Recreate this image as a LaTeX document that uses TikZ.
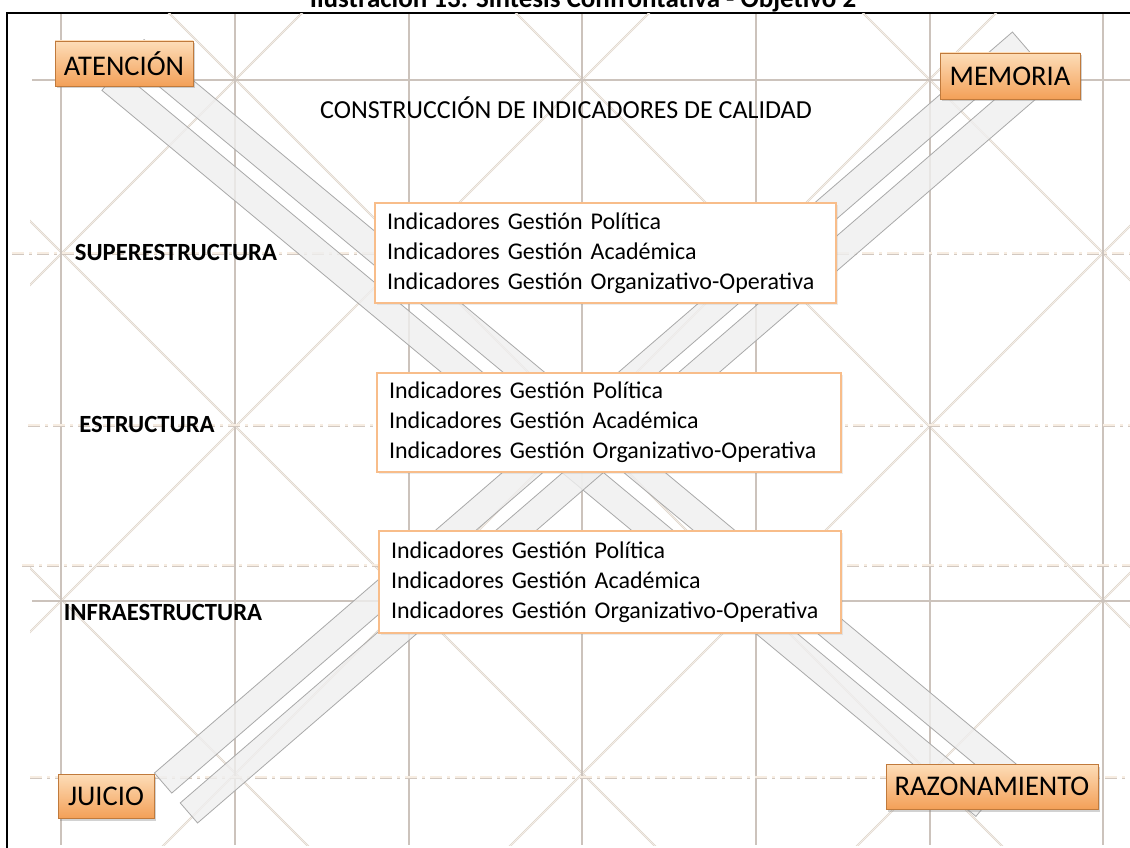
\documentclass[tikz,border=0pt]{standalone}
\usepackage{fontspec}
\setmainfont{Carlito}
\usetikzlibrary{shadows,calc}
\definecolor{gridc}{HTML}{CCC3BC}
\definecolor{diagc}{HTML}{DDD4CB}
\definecolor{diagin}{HTML}{F7F1EB}
\definecolor{dashc}{HTML}{D2C8C0}
\definecolor{dashin}{HTML}{F7EDE2}
\definecolor{bandfill}{HTML}{EFEFEF}
\definecolor{bandline}{HTML}{A9A9A9}
\definecolor{boxline}{HTML}{F8BD8A}
\definecolor{lbltop}{HTML}{FDDDB8}
\definecolor{lblbot}{HTML}{F3A058}
\definecolor{lblline}{HTML}{C07A3C}
\tikzset{
  gridline/.style={gridc, line width=2pt},
  diagline/.style={diagc, line width=2pt},
  diagfine/.style={diagin, line width=0.7pt},
  dashout/.style={dashc, line width=3pt, dash pattern=on 12pt off 5pt on 3pt off 5pt},
  dashinner/.style={dashin, line width=1.4pt, dash pattern=on 12pt off 5pt on 3pt off 5pt},
  bandshape/.style={fill=bandfill, fill opacity=0.8, draw=bandline, line width=0.8pt},
  infobox/.style={draw=boxline, line width=1.6pt, fill=white, rectangle,
    inner xsep=12pt, inner ysep=8pt, align=left,
    font=\fontsize{24}{30}\selectfont,
    drop shadow={opacity=0.15, shadow xshift=2pt, shadow yshift=-2pt}},
  lbl/.style={rectangle, draw=lblline, line width=0.8pt, top color=lbltop, bottom color=lblbot,
    font=\fontsize{28.5}{30}\selectfont, inner sep=0pt,
    drop shadow={opacity=0.35, shadow xshift=2pt, shadow yshift=-2.5pt}},
  lvl/.style={font=\bfseries\fontsize{24.7}{28}\selectfont, inner sep=0pt}
}
\begin{document}
\begin{tikzpicture}[x=1pt,y=-1pt]
\useasboundingbox (0,0) rectangle (1130,848);
\fill[white] (0,0) rectangle (1130,848);

% cut-off caption (the reference shows only its lower part)
\node[font=\bfseries\fontsize{27}{30}\selectfont, anchor=base, inner sep=0pt] (caption) at (583,7.5) {Ilustración 13. Síntesis Confrontativa - Objetivo 2};

% frame
\draw[black, line width=2pt] (7,848) -- (7,13) -- (1130,13);

% diagonal lattice
\begin{scope}
\clip (30,14) rectangle (1130,845);
\foreach \c in {-538,-191,156,503,850} {
  \draw[diagline] (\c-100,-100) -- (\c+950,950);
  \draw[diagfine] (\c-100,-100) -- (\c+950,950);
}
\foreach \c in {315,662,1009,1356,1703} {
  \draw[diagline] (\c+100,-100) -- (\c-950,950);
  \draw[diagfine] (\c+100,-100) -- (\c-950,950);
}
\end{scope}

% vertical grid lines
\foreach \x in {61,235,409,582,756,930,1103}
  \draw[gridline] (\x,14) -- (\x,845);
% solid horizontals
\draw[gridline] (32,80) -- (1130,80);
\draw[gridline] (32,601) -- (1130,601);
% dashed horizontals
\foreach \y/\s in {253/12,425/28,565/22,777/30} {
  \draw[dashout] (\s,\y) -- (1130,\y);
  \draw[dashinner] (\s,\y) -- (1130,\y);
}

% bands
\coordinate (A0) at (123,65);
\coordinate (A1) at (997,791);
\coordinate (B0) at (176,798);
\coordinate (B1) at (1034,57);
\foreach \p/\q in {A0/A1,B0/B1} {
  \draw[bandshape] ($(\p)!6.5pt!90:(\q)$) -- ($(\p)!33pt!90:(\q)$) -- ($(\q)!33pt!-90:(\p)$) -- ($(\q)!6.5pt!-90:(\p)$) -- cycle;
  \draw[bandshape] ($(\p)!6.5pt!-90:(\q)$) -- ($(\p)!33pt!-90:(\q)$) -- ($(\q)!33pt!90:(\p)$) -- ($(\q)!6.5pt!90:(\p)$) -- cycle;
}

% heading
\node[font=\fontsize{26}{30}\selectfont, inner sep=0pt] (heading) at (566,108) {CONSTRUCCIÓN DE INDICADORES DE CALIDAD};

% level labels
\node[lvl] (sup) at (176,252) {SUPERESTRUCTURA};
\node[lvl] (est) at (147,424) {ESTRUCTURA};
\node[lvl] (inf) at (163,612) {INFRAESTRUCTURA};

% indicator boxes
\node[infobox, text width=437pt, minimum height=100pt] (box1) at (605.5,253)
  {Indicadores Gestión Política\\Indicadores Gestión Académica\\Indicadores Gestión Organizativo-Operativa};
\node[infobox, text width=440pt, minimum height=99pt] (box2) at (609,422.5)
  {Indicadores Gestión Política\\Indicadores Gestión Académica\\Indicadores Gestión Organizativo-Operativa};
\node[infobox, text width=438pt, minimum height=102pt] (box3) at (610,582)
  {Indicadores Gestión Política\\Indicadores Gestión Académica\\Indicadores Gestión Organizativo-Operativa};

% corner labels
\node[lbl, minimum width=138pt, minimum height=45pt] (aten) at (124,63.5) {ATENCIÓN};
\node[lbl, minimum width=140pt, minimum height=46pt] (mem) at (1010,76) {MEMORIA};
\node[lbl, minimum width=96pt, minimum height=44pt] (jui) at (106,796) {JUICIO};
\node[lbl, minimum width=212pt, minimum height=45pt] (raz) at (992,786.5) {RAZONAMIENTO};
\end{tikzpicture}
\end{document}
